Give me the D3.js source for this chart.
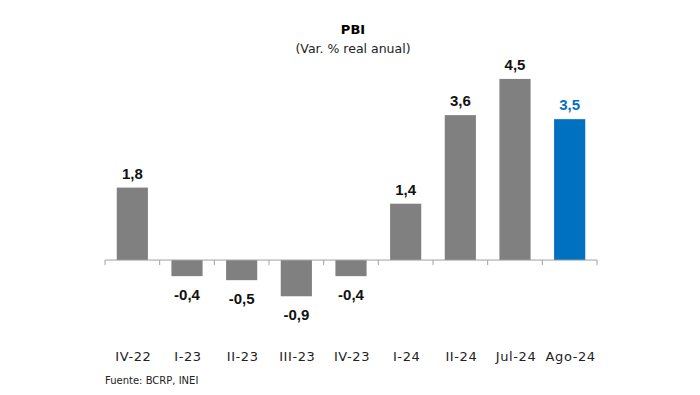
<!DOCTYPE html>
<html><head><meta charset="utf-8">
<script src="https://cdn.jsdelivr.net/npm/d3@7"></script>
<style>body{margin:0;background:#fff}svg{display:block}</style>
</head><body>
<svg id="c" width="700" height="395"></svg>
<script>
const categories = ["IV-22","I-23","II-23","III-23","IV-23","I-24","II-24","Jul-24","Ago-24"];
const values = [1.8,-0.4,-0.5,-0.9,-0.4,1.4,3.6,4.5,3.5];
const highlight = ["Ago-24"];
const title = "PBI";
const subtitle = "(Var. % real anual)";
const source = "Fuente: BCRP, INEI";

const svg = d3.select("#c");
const x = d3.scaleBand().domain(categories).range([105,597]).paddingInner(0.43).paddingOuter(0.215);
const y = d3.scaleLinear().domain([-1,5]).range([300.3,58.8]);
const gray = "#808080", blue = "#0070C0";
const dv = "'DejaVu Sans', sans-serif", lib = "'Liberation Sans', Arial, sans-serif";

svg.append("text").attr("x",353).attr("y",34).attr("text-anchor","middle")
  .style("font-family",dv).style("font-size","13px").style("font-weight","bold")
  .text(title);
svg.append("text").attr("x",353).attr("y",53).attr("text-anchor","middle")
  .style("font-family",dv).style("font-size","12.5px").attr("fill","#222").text(subtitle);

svg.selectAll("rect.bar").data(values).join("rect").attr("class","bar")
  .attr("x",(d,i)=>x(categories[i]))
  .attr("width",x.bandwidth())
  .attr("y",d=>y(Math.max(0,d)))
  .attr("height",d=>Math.abs(y(d)-y(0)))
  .attr("fill",(d,i)=>highlight.includes(categories[i])?blue:gray);

const fmt = d=>d.toFixed(1).replace(".",",");
svg.selectAll("text.val").data(values).join("text").attr("class","val")
  .attr("x",(d,i)=>x(categories[i])+x.bandwidth()/2)
  .attr("y",d=> d>=0 ? y(d)-9 : y(d)+24)
  .attr("text-anchor","middle")
  .style("font-family",lib).style("font-size","15px").style("font-weight","bold")
  .attr("fill",(d,i)=>highlight.includes(categories[i])?blue:"#111")
  .text(fmt);

const ax = svg.append("g").attr("transform",`translate(0,${y(0)})`);
ax.append("line").attr("x1",105).attr("x2",597).attr("stroke","#a0a0a0").attr("stroke-width",1);
const step = x.step();
const bounds = d3.range(categories.length+1).map(i=>105+i*step);
ax.selectAll("line.tk").data(bounds).join("line").attr("class","tk")
  .attr("x1",d=>d).attr("x2",d=>d).attr("y1",0).attr("y2",5).attr("stroke","#a0a0a0");

svg.selectAll("text.cat").data(categories).join("text").attr("class","cat")
  .attr("x",d=>x(d)+x.bandwidth()/2+1).attr("y",361)
  .attr("text-anchor","middle")
  .style("font-family",dv).style("font-size","13px").style("letter-spacing","0.6px")
  .attr("fill","#222").text(d=>d);

svg.append("text").attr("x",105).attr("y",384)
  .style("font-family",dv).style("font-size","10px").attr("fill","#222").text(source);
</script>
</body></html>
